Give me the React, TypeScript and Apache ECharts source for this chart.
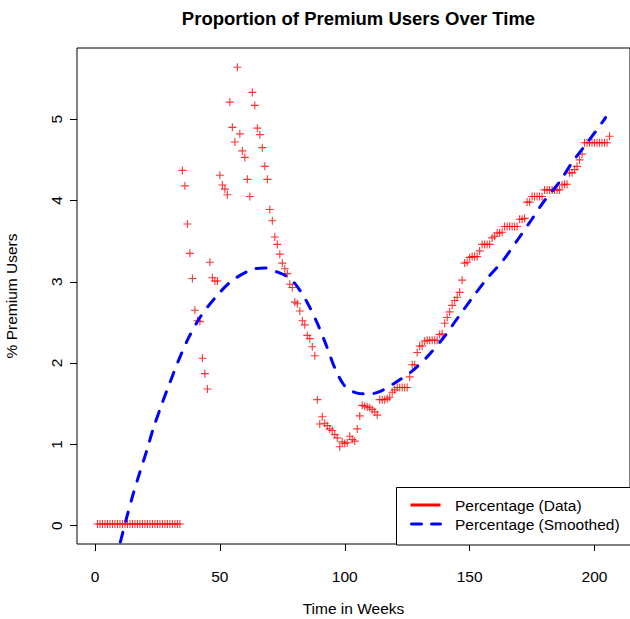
import React, { useEffect, useRef } from "react";
import * as echarts from "echarts";

// Weekly % of premium users, week 1 .. 206
const firstWeek = 1;
const premiumPct = [
  0.02, 0.02, 0.02, 0.02, 0.02, 0.02, 0.02, 0.02, 0.02, 0.02,
  0.02, 0.02, 0.02, 0.02, 0.02, 0.02, 0.02, 0.02, 0.02, 0.02,
  0.02, 0.02, 0.02, 0.02, 0.02, 0.02, 0.02, 0.02, 0.02, 0.02,
  0.02, 0.02, 0.02, 0.02,
  4.37, 4.18, 3.71, 3.35, 3.04, 2.65, 2.52, 2.51, 2.06, 1.87, 1.68,
  3.24, 3.05, 3.01, 3.01, 4.31, 4.19, 4.14, 4.07, 5.21, 4.90,
  4.72, 5.64, 4.82, 4.61, 4.53, 4.26, 4.05, 5.33, 5.17, 4.89,
  4.81, 4.65, 4.42, 4.26, 3.89, 3.75, 3.55, 3.46, 3.34, 3.23,
  3.16, 3.10, 2.97, 2.93, 2.75, 2.73, 2.64, 2.52, 2.47, 2.34,
  2.30, 2.20, 2.09, 1.55, 1.25, 1.34, 1.26, 1.23, 1.19, 1.17,
  1.12, 1.08, 0.97, 1.03, 1.01, 1.02, 1.10, 1.06, 1.04, 1.19,
  1.35, 1.48, 1.47, 1.46, 1.45, 1.43, 1.40, 1.36, 1.55, 1.55,
  1.55, 1.56, 1.58, 1.64, 1.67, 1.70, 1.70, 1.70, 1.70, 1.70,
  1.83, 1.98, 1.98, 2.13, 2.21, 2.21, 2.27, 2.28, 2.28, 2.28,
  2.28, 2.28, 2.35, 2.36, 2.49, 2.56, 2.63, 2.71, 2.77, 2.81,
  2.87, 3.02, 3.23, 3.24, 3.30, 3.31, 3.31, 3.31, 3.38, 3.46,
  3.46, 3.46, 3.46, 3.54, 3.56, 3.60, 3.60, 3.61, 3.68, 3.68,
  3.68, 3.68, 3.68, 3.68, 3.77, 3.77, 3.78, 3.98, 3.98, 4.05,
  4.05, 4.05, 4.05, 4.05, 4.13, 4.13, 4.13, 4.13, 4.13, 4.13,
  4.13, 4.19, 4.20, 4.20, 4.34, 4.34, 4.38, 4.42, 4.50, 4.57,
  4.71, 4.71, 4.71, 4.71, 4.71, 4.71, 4.71, 4.71, 4.71, 4.71,
  4.79,
];

// Smoothed curve
const smoothWeeks = [
  8, 10, 12.7, 15.3, 18, 20.7, 23.3, 26.7, 30, 33.3, 37.3, 42, 48, 54.7,
  62.7, 68, 72, 76, 80, 84.7, 89.3, 92.7, 96, 99, 101.3, 105, 110, 114,
  119.3, 127.3, 134, 140, 145.3, 151, 156.7, 163.3, 169.3, 174.7, 180, 186,
  191.3, 197.3, 203.3, 204.4,
];
const smoothPct = [
  -0.45, -0.22, 0.1, 0.39, 0.66, 0.92, 1.19, 1.49, 1.76, 2.02, 2.3, 2.56,
  2.8, 3.01, 3.15, 3.17, 3.13, 3.08, 2.98, 2.76, 2.47, 2.21, 1.94, 1.76,
  1.68, 1.63, 1.62, 1.65, 1.74, 1.91, 2.11, 2.33, 2.56, 2.8, 3.03, 3.26,
  3.52, 3.76, 4.0, 4.23, 4.48, 4.72, 4.97, 5.02,
];

const xTicks = [0, 50, 100, 150, 200];
const yTicks = [0, 1, 2, 3, 4, 5];

const titleText = "Proportion of Premium Users Over Time";
const xTitle = "Time in Weeks";
const yTitle = "% Premium Users";
const legendLabels = ["Percentage (Data)", "Percentage (Smoothed)"];

const FONT = "'Liberation Sans', Arial, Helvetica, sans-serif";
const PLUS =
  "path://M3.45,0 L4.55,0 L4.55,3.45 L8,3.45 L8,4.55 L4.55,4.55 L4.55,8 L3.45,8 L3.45,4.55 L0,4.55 L0,3.45 L3.45,3.45 Z";

export default function App() {
  const ref = useRef<HTMLDivElement>(null);

  useEffect(() => {
    if (!ref.current) return;
    const chart = echarts.init(ref.current, null, { renderer: "svg" });

    const dataPts = premiumPct.map((v, i) => [firstWeek + i, v]);
    const smoothPts = smoothWeeks.map((w, i) => [w, smoothPct[i]]);

    const legendX = 396.5;
    const legendY = 487.5;

    chart.setOption({
      animation: false,
      backgroundColor: "#ffffff",
      title: {
        text: titleText,
        left: 353.5,
        textAlign: "center",
        top: 4,
        textStyle: {
          fontFamily: FONT,
          fontSize: 18.5,
          fontWeight: "bold",
          color: "#000",
        },
      },
      grid: {
        left: 77,
        right: 0,
        top: 48,
        bottom: 75,
        outerBoundsMode: "none",
        containLabel: false,
        show: true,
        borderColor: "#000",
        borderWidth: 1,
        backgroundColor: "transparent",
      },
      xAxis: {
        type: "value",
        min: -7.2,
        max: 214.2,
        name: xTitle,
        nameLocation: "middle",
        nameGap: 56,
        nameTextStyle: { fontFamily: FONT, fontSize: 15.5, color: "#000" },
        axisLine: { show: false, onZero: false },
        splitLine: { show: false },
        axisTick: {
          show: true,
          inside: false,
          length: 7,
          lineStyle: { color: "#000", width: 1 },
          customValues: xTicks,
        },
        axisLabel: {
          customValues: xTicks,
          fontFamily: FONT,
          fontSize: 15.5,
          color: "#000",
          margin: 24,
        },
      },
      yAxis: {
        type: "value",
        min: -0.226,
        max: 5.876,
        name: yTitle,
        nameLocation: "middle",
        nameGap: 58,
        nameRotate: 90,
        nameTextStyle: { fontFamily: FONT, fontSize: 15.5, color: "#000" },
        axisLine: { show: false, onZero: false },
        splitLine: { show: false },
        axisTick: {
          show: true,
          inside: false,
          length: 7,
          lineStyle: { color: "#000", width: 1 },
          customValues: yTicks,
        },
        axisLabel: {
          customValues: yTicks,
          rotate: 90,
          fontFamily: FONT,
          fontSize: 15.5,
          color: "#000",
          margin: 13,
        },
      },
      series: [
        {
          name: legendLabels[0],
          type: "scatter",
          data: dataPts,
          symbol: PLUS,
          symbolSize: 8,
          itemStyle: { color: "#ff0000" },
          z: 3,
        },
        {
          name: legendLabels[1],
          type: "line",
          data: smoothPts,
          smooth: 0.3,
          showSymbol: false,
          clip: true,
          lineStyle: {
            color: "#0000ff",
            width: 3,
            type: [10, 11],
            cap: "round",
          },
          z: 4,
        },
      ],
      graphic: [
        {
          type: "rect",
          z: 100,
          shape: { x: legendX, y: legendY, width: 260, height: 57.5 },
          style: { fill: "#fff", stroke: "#000", lineWidth: 1 },
        },
        {
          type: "line",
          z: 101,
          shape: { x1: 410.5, y1: 505, x2: 440.5, y2: 505 },
          style: { stroke: "#ff0000", lineWidth: 3 },
        },
        {
          type: "line",
          z: 101,
          shape: { x1: 411.5, y1: 524, x2: 440.5, y2: 524 },
          style: {
            stroke: "#0000ff",
            lineWidth: 3,
            lineDash: [10, 10],
            lineCap: "round",
          },
        },
        {
          type: "text",
          z: 101,
          x: 455,
          y: 505,
          style: {
            text: legendLabels[0],
            fontFamily: FONT,
            fontSize: 15.5,
            fill: "#000",
            verticalAlign: "middle",
            align: "left",
          },
        },
        {
          type: "text",
          z: 101,
          x: 455,
          y: 524,
          style: {
            text: legendLabels[1],
            fontFamily: FONT,
            fontSize: 15.5,
            fill: "#000",
            verticalAlign: "middle",
            align: "left",
          },
        },
      ],
    });

    return () => chart.dispose();
  }, []);

  return (
    <div
      ref={ref}
      style={{ position: "fixed", left: 0, top: 0, width: 630, height: 619 }}
    />
  );
}
